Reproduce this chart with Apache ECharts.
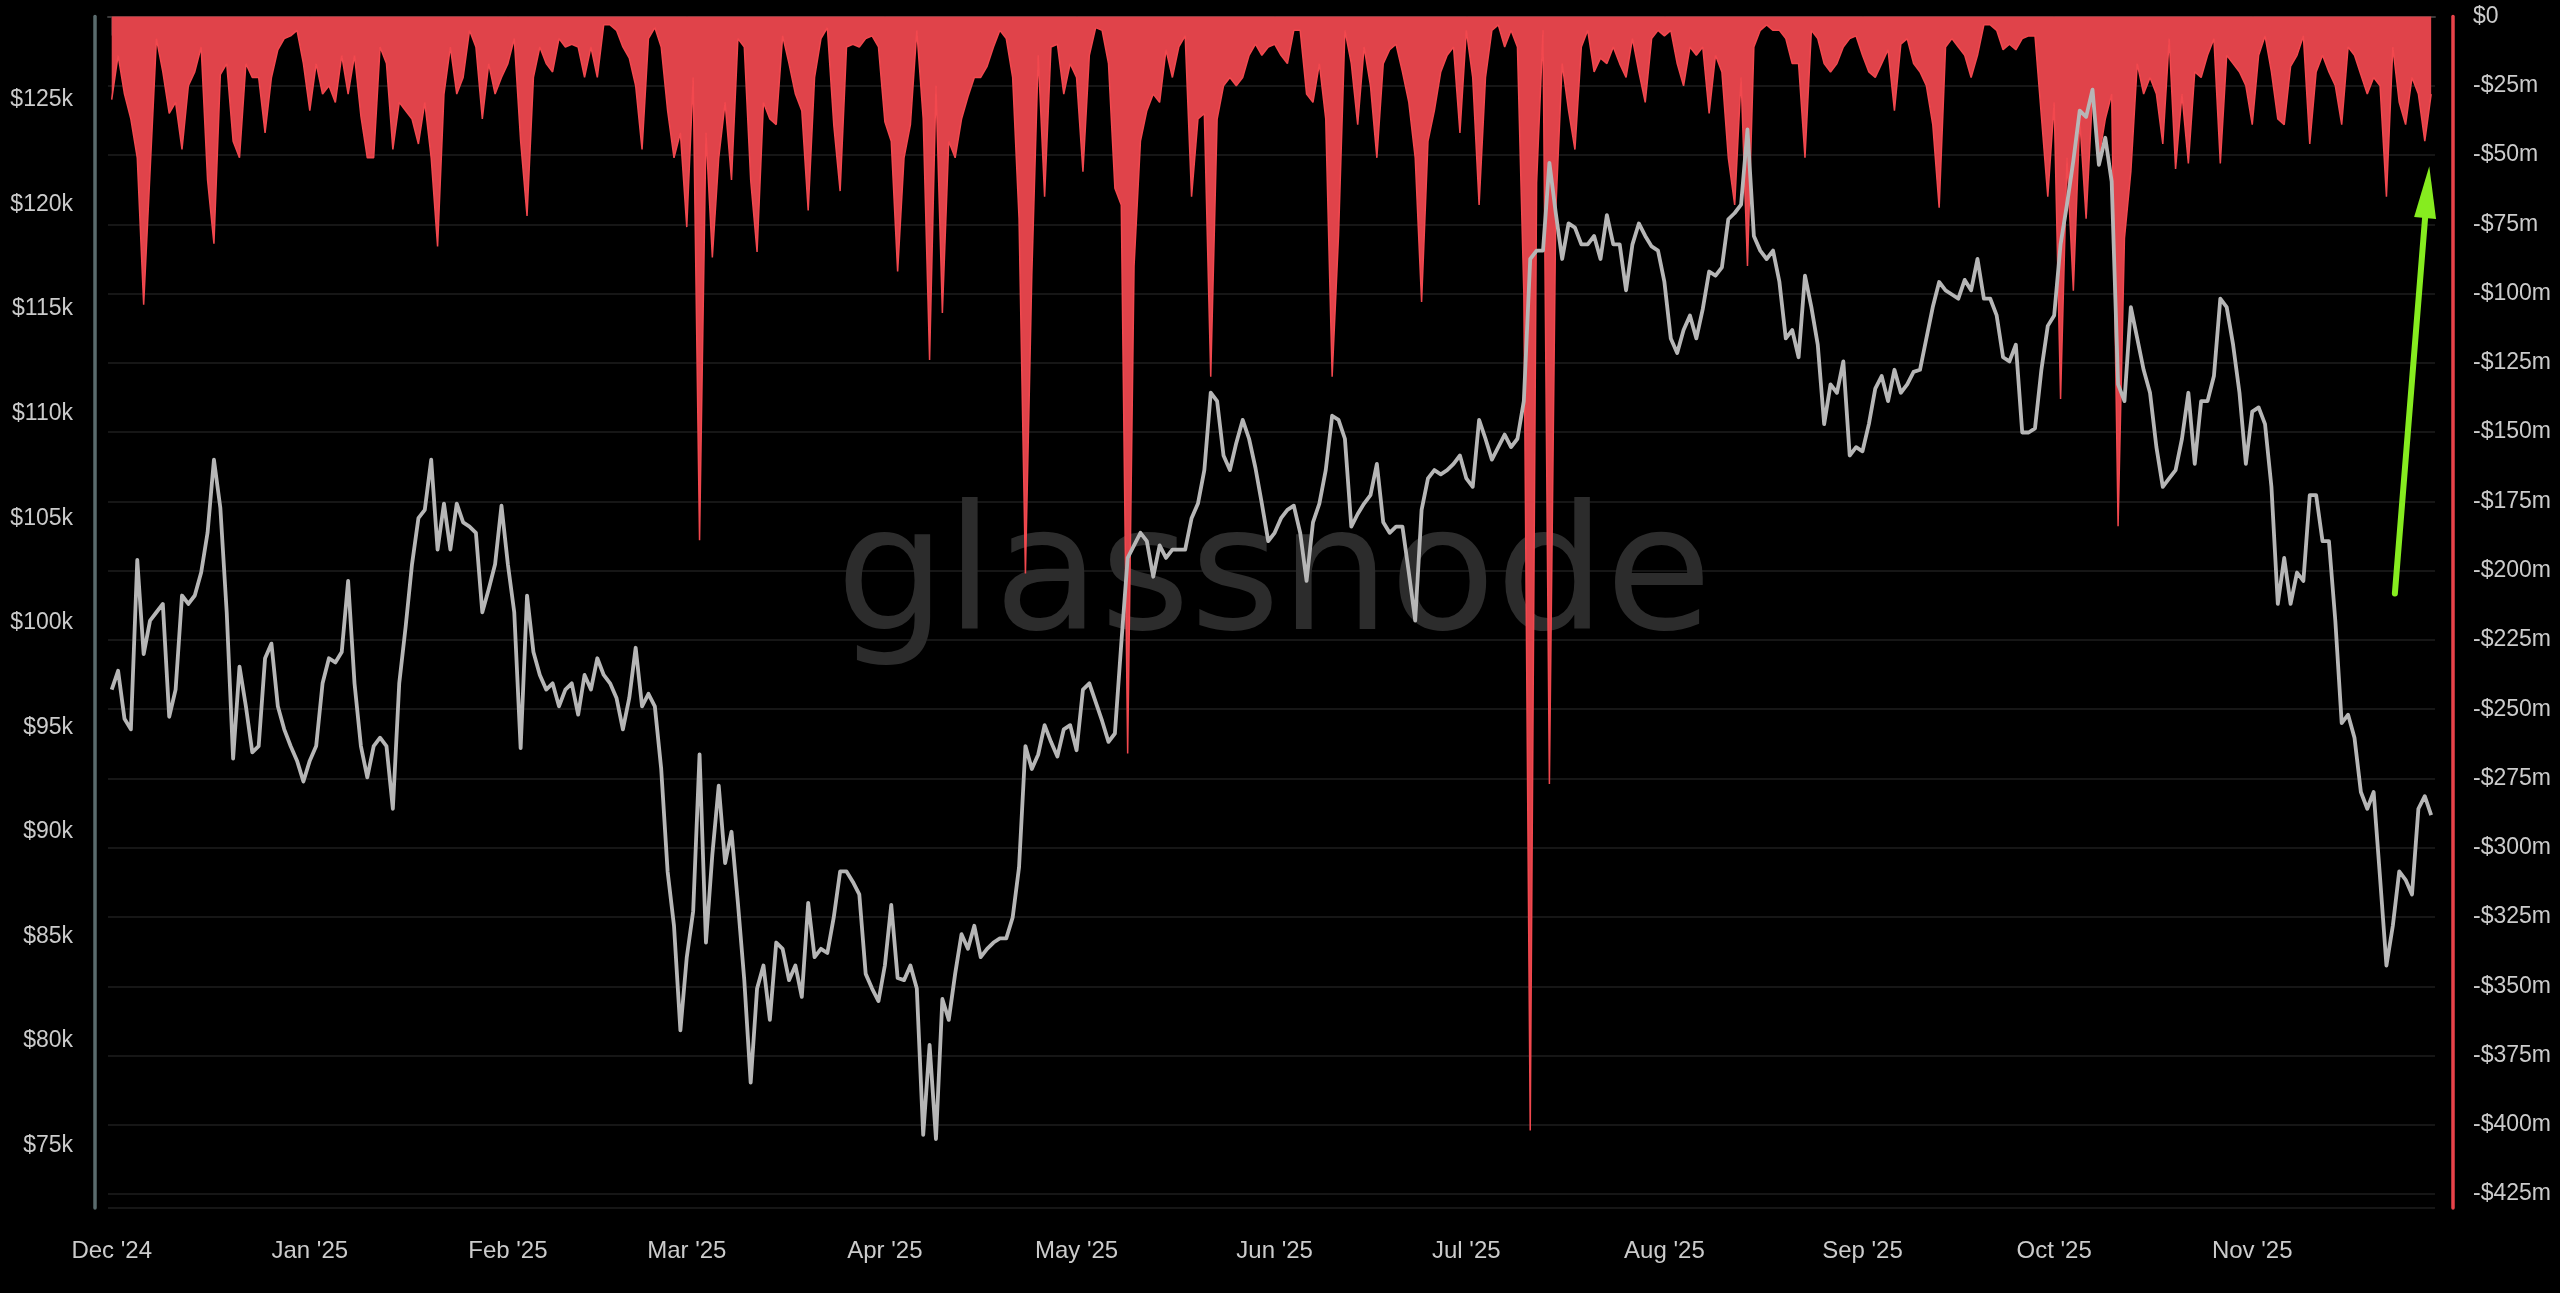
<!DOCTYPE html>
<html>
<head>
<meta charset="utf-8">
<script src="https://cdn.jsdelivr.net/npm/echarts@6/dist/echarts.min.js"></script>
<style>
html,body{margin:0;padding:0;background:#000;}
#chart{width:2560px;height:1293px;}
</style>
</head>
<body>
<div id="chart"></div>
<script>
// ---------- data ----------
const startDate = '2024-12-01';   // first daily sample, one value per day afterwards

// BTC price, thousands of USD (left axis)
const priceK = [
  96.8, 97.7, 95.4, 94.9, 103.0, 98.5, 100.1, 100.5, 100.9, 95.5,
  96.8, 101.3, 100.9, 101.3, 102.4, 104.3, 107.8, 105.5, 100.5, 93.5,
  97.9, 96.0, 93.8, 94.1, 98.3, 99.0, 96.0, 94.9, 94.1, 93.4,
  92.4, 93.4, 94.1, 97.1, 98.3, 98.1, 98.6, 102.0, 97.1, 94.1,
  92.6, 94.1, 94.5, 94.1, 91.1, 97.1, 99.8, 102.8, 105.0, 105.4,
  107.8, 103.5, 105.7, 103.5, 105.7, 104.8, 104.6, 104.3, 100.5, 101.6,
  102.8, 105.6, 102.8, 100.5, 94.0, 101.3, 98.6, 97.5, 96.8, 97.1,
  96.0, 96.8, 97.1, 95.6, 97.5, 96.8, 98.3, 97.5, 97.1, 96.4,
  94.9, 96.4, 98.8, 96.0, 96.6, 96.0, 93.0, 88.1, 85.5, 80.5,
  84.0, 86.2, 93.7, 84.7, 88.9, 92.2, 88.5, 90.0, 86.6, 82.9,
  78.0, 82.5, 83.6, 81.0, 84.7, 84.4, 82.9, 83.6, 82.1, 86.6,
  84.0, 84.4, 84.2, 85.9, 88.1, 88.1, 87.6, 87.0, 83.2, 82.5,
  81.9, 83.6, 86.5, 83.0, 82.9, 83.6, 82.5, 75.5, 79.8, 75.3,
  82.0, 81.0, 83.2, 85.1, 84.4, 85.5, 84.0, 84.4, 84.7, 84.9,
  84.9, 85.9, 88.3, 94.1, 93.0, 93.7, 95.1, 94.3, 93.6, 94.9,
  95.1, 93.9, 96.8, 97.1, 96.2, 95.3, 94.3, 94.7, 99.0, 103.1,
  103.7, 104.3, 103.9, 102.2, 103.7, 103.1, 103.5, 103.5, 103.5, 105.0,
  105.7, 107.3, 111.0, 110.6, 108.0, 107.3, 108.6, 109.7, 108.8, 107.4,
  105.7, 103.9, 104.3, 105.0, 105.4, 105.6, 104.3, 102.0, 104.8, 105.7,
  107.3, 109.9, 109.7, 108.8, 104.6, 105.2, 105.7, 106.1, 107.6, 104.8,
  104.3, 104.6, 104.6, 102.4, 100.1, 105.4, 106.9, 107.3, 107.1, 107.3,
  107.6, 108.0, 106.9, 106.5, 109.7, 108.8, 107.8, 108.4, 109.0, 108.4,
  108.8, 110.6, 117.4, 117.8, 117.8, 122.0, 119.6, 117.4, 119.1, 118.9,
  118.1, 118.1, 118.5, 117.4, 119.5, 118.1, 118.1, 115.9, 118.1, 119.1,
  118.5, 118.0, 117.8, 116.3, 113.6, 112.9, 114.0, 114.7, 113.6, 115.0,
  116.8, 116.6, 117.0, 119.3, 119.6, 120.0, 123.6, 118.5, 117.8, 117.4,
  117.8, 116.3, 113.6, 114.0, 112.7, 116.6, 115.1, 113.3, 109.5, 111.4,
  111.0, 112.5, 108.0, 108.4, 108.2, 109.5, 111.2, 111.8, 110.6, 112.1,
  111.0, 111.4, 112.0, 112.1, 113.6, 115.1, 116.3, 115.9, 115.7, 115.5,
  116.4, 115.9, 117.4, 115.5, 115.5, 114.7, 112.7, 112.5, 113.3, 109.1,
  109.1, 109.3, 112.1, 114.2, 114.7, 118.1, 120.0, 122.1, 124.5, 124.2,
  125.5, 121.9, 123.2, 121.1, 111.4, 110.6, 115.1, 113.6, 112.1, 111.0,
  108.4, 106.5, 106.9, 107.3, 108.8, 111.0, 107.6, 110.6, 110.6, 111.8,
  115.5, 115.1, 113.3, 111.0, 107.6, 110.1, 110.3, 109.5, 106.5, 100.9,
  103.1, 100.9, 102.4, 102.0, 106.1, 106.1, 103.9, 103.9, 100.1, 95.2,
  95.6, 94.5, 91.9, 91.1, 91.9, 87.8, 83.6, 85.5, 88.1, 87.7,
  87.0, 91.1, 91.7, 90.8
];

// Realized loss, millions of USD (right axis, negative)
const lossM = [
  -30, -14, -28, -37, -51, -104, -56, -8, -20, -35,
  -31, -48, -25, -20, -11, -59, -82, -21, -17, -45,
  -51, -17, -22, -22, -42, -22, -12, -8, -7, -5,
  -17, -34, -17, -28, -25, -31, -14, -28, -14, -36,
  -51, -51, -11, -17, -48, -31, -34, -37, -46, -31,
  -51, -83, -28, -11, -28, -22, -5, -11, -37, -17,
  -28, -22, -17, -8, -45, -72, -22, -11, -17, -20,
  -8, -11, -10, -11, -22, -11, -22, -3, -3, -5,
  -11, -15, -25, -48, -8, -4, -11, -34, -51, -42,
  -76, -22, -189, -42, -87, -51, -31, -59, -8, -11,
  -59, -85, -31, -37, -39, -7, -17, -28, -34, -70,
  -22, -8, -4, -39, -63, -11, -10, -11, -8, -7,
  -11, -38, -45, -92, -51, -39, -5, -37, -124, -25,
  -107, -45, -51, -37, -29, -22, -22, -18, -11, -5,
  -8, -22, -73, -201, -93, -14, -65, -11, -10, -28,
  -17, -22, -56, -14, -4, -5, -17, -62, -68, -266,
  -90, -45, -34, -28, -31, -12, -22, -11, -7, -65,
  -37, -35, -130, -37, -25, -22, -25, -22, -14, -10,
  -14, -11, -10, -14, -17, -5, -5, -28, -31, -17,
  -37, -130, -79, -5, -17, -39, -11, -25, -51, -17,
  -12, -10, -20, -31, -51, -103, -45, -34, -20, -14,
  -11, -42, -5, -22, -68, -22, -5, -3, -11, -5,
  -11, -100, -402, -60, -5, -277, -70, -17, -34, -48,
  -11, -5, -20, -15, -17, -11, -17, -22, -8, -20,
  -31, -8, -5, -7, -5, -17, -25, -11, -14, -11,
  -35, -14, -20, -51, -68, -22, -90, -11, -5, -3,
  -5, -5, -8, -17, -17, -51, -5, -8, -17, -20,
  -17, -11, -8, -7, -14, -20, -22, -17, -12, -34,
  -10, -8, -17, -20, -25, -39, -69, -11, -8, -11,
  -14, -22, -14, -3, -3, -5, -12, -10, -12, -8,
  -7, -7, -36, -65, -31, -138, -51, -99, -37, -73,
  -28, -51, -37, -28, -184, -80, -56, -17, -28, -22,
  -28, -46, -8, -55, -28, -53, -20, -22, -14, -8,
  -53, -14, -17, -20, -25, -39, -14, -7, -20, -37,
  -39, -18, -14, -7, -46, -20, -14, -20, -25, -39,
  -11, -14, -21, -28, -22, -25, -65, -11, -31, -39,
  -22, -28, -45, -28
];

// x axis month ticks and labels
const monthTicks = ['2024-12-01','2025-01-01','2025-02-01','2025-03-01','2025-04-01','2025-05-01',
                    '2025-06-01','2025-07-01','2025-08-01','2025-09-01','2025-10-01','2025-11-01'];
const monthLabels = ["Dec '24","Jan '25","Feb '25","Mar '25","Apr '25","May '25",
                     "Jun '25","Jul '25","Aug '25","Sep '25","Oct '25","Nov '25"];
// left axis tick labels (thousands USD)
const priceTicksK = [75, 80, 85, 90, 95, 100, 105, 110, 115, 120, 125];
// right axis tick labels (millions USD)
const lossTicksM = [0, -25, -50, -75, -100, -125, -150, -175, -200, -225, -250, -275, -300, -325, -350, -375, -400, -425];
// annotation arrow: [time, price in thousands]
const arrowFrom = ['2025-11-23T07:40:00Z', 101.4];
const arrowTo   = ['2025-11-28T09:00:00Z', 120.6];

// ---------- build ----------
const DAY = 86400000;
const t0 = Date.parse(startDate + 'T00:00:00Z');
const dates = priceK.map((_, i) => t0 + i * DAY);
const monthTs = monthTicks.map(s => Date.parse(s + 'T00:00:00Z'));
const labelByTs = {};
monthTs.forEach((t, i) => { labelByTs[t] = monthLabels[i]; });

const priceData = dates.map((t, i) => [t, priceK[i] * 1000]);
const lossData = dates.map((t, i) => [t, -lossM[i] * 1e6]); // magnitude on an inverted axis

const labelColor = '#cbcbcb';
const fontFamily = '"Liberation Sans", Arial, sans-serif';

const chart = echarts.init(document.getElementById('chart'), null, {renderer: 'canvas'});
chart.setOption({
  backgroundColor: '#000000',
  animation: false,
  grid: { left: 108, right: 125, top: 16.5, bottom: 85, containLabel: false, outerBoundsMode: 'none' },
  graphic: {
    elements: [{
      type: 'text',
      x: 1274, y: 584, z: 1, silent: true,
      style: {
        text: 'glassnode',
        fill: '#2c2c2c',
        font: '173px "DejaVu Sans", sans-serif',
        fontSize: 173,
        fontFamily: '"DejaVu Sans", sans-serif',
        align: 'center', verticalAlign: 'middle',
        textAlign: 'center', textVerticalAlign: 'middle'
      }
    }]
  },
  xAxis: {
    type: 'value',
    min: t0 - 0.58 * DAY,
    max: t0 + 363.6 * DAY,
    axisLine: { show: true, lineStyle: { color: '#3a3a3a', width: 2 } },
    axisTick: { show: true, customValues: monthTs, length: 19, lineStyle: { color: '#333333', width: 1.5 } },
    axisLabel: {
      customValues: monthTs,
      formatter: v => labelByTs[v] || '',
      color: labelColor, fontSize: 24, fontFamily, margin: 31
    },
    splitLine: { show: false }
  },
  yAxis: [
    {
      type: 'value',
      position: 'left',
      offset: 13,
      min: 72000, max: 129000, interval: 1000,
      axisLine: { show: true, lineStyle: { color: '#5a6b6d', width: 3.5 } },
      axisTick: { show: false },
      axisLabel: {
        formatter: v => (v % 5000 === 0 && priceTicksK.indexOf(v / 1000) >= 0) ? '$' + (v / 1000) + 'k' : '',
        color: labelColor, fontSize: 23, fontFamily, margin: 22
      },
      splitLine: { show: false }
    },
    {
      type: 'value',
      position: 'right',
      offset: 18,
      inverse: true,
      min: 0, max: 430e6, interval: 25e6,
      axisLine: { show: true, lineStyle: { color: '#e8434a', width: 3.5 } },
      axisTick: { show: false },
      axisLabel: {
        showMaxLabel: false,
        formatter: v => {
          const m = -Math.round(v / 1e6);
          if (lossTicksM.indexOf(m) < 0) return '';
          return m === 0 ? '$0' : '-$' + (-m) + 'm';
        },
        color: labelColor, fontSize: 23, fontFamily, margin: 20
      },
      splitLine: { show: true, lineStyle: { color: '#1e1e1e', width: 1.5 } }
    }
  ],
  series: [
    {
      name: 'Realized Loss',
      type: 'line',
      yAxisIndex: 1,
      data: lossData,
      symbol: 'none',
      z: 2,
      lineStyle: { color: '#f2484e', width: 1.5 },
      areaStyle: { color: '#e0434a', opacity: 1 },
      silent: true
    },
    {
      name: 'Price',
      type: 'line',
      yAxisIndex: 0,
      data: priceData,
      symbol: 'none',
      z: 3,
      lineStyle: { color: '#b6b6b6', width: 3.8, join: 'round' },
      silent: true,
      markLine: {
        silent: true,
        animation: false,
        symbol: ['none', 'triangle'],
        symbolSize: [0, [22, 52]],
        label: { show: false },
        emphasis: { disabled: true },
        lineStyle: { color: '#86ec1f', width: 6, type: 'solid', cap: 'round', opacity: 1 },
        data: [[
          { coord: [Date.parse(arrowFrom[0]), arrowFrom[1] * 1000], symbol: 'none' },
          { coord: [Date.parse(arrowTo[0]), arrowTo[1] * 1000], symbol: 'triangle', symbolSize: [22, 52] }
        ]]
      }
    }
  ]
});
</script>
</body>
</html>
